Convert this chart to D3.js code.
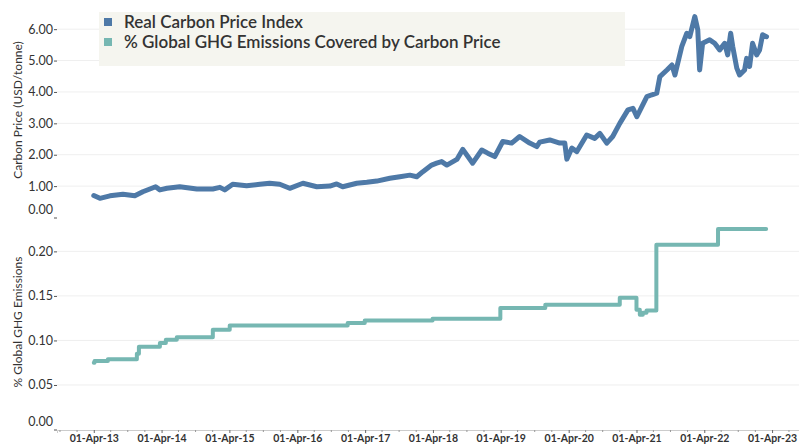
<!DOCTYPE html>
<html lang="en">
<head>
<meta charset="UTF-8">
<title>Carbon Price</title>
<script src="https://cdn.jsdelivr.net/npm/d3@7"></script>
<style>
  body { margin: 0; background: #fff; }
  text { font-family: Lato, "Open Sans", sans-serif; fill: #333; }
  .grid line { stroke: #efefef; }
</style>
</head>
<body>
<script>
// carbon price index (USD/tonne)
var priceDates = ["2013-04-01","2013-05-04","2013-06-27","2013-09-05","2013-11-08","2013-12-21","2014-02-28","2014-03-23","2014-04-30","2014-07-08","2014-10-08","2015-01-02","2015-02-09","2015-03-07","2015-04-19","2015-07-03","2015-09-12","2015-11-04","2015-12-28","2016-02-20","2016-05-01","2016-07-15","2016-09-23","2016-10-30","2016-12-01","2017-02-15","2017-04-10","2017-06-03","2017-08-12","2017-10-05","2017-11-28","2018-01-04","2018-02-06","2018-03-25","2018-04-21","2018-05-18","2018-06-15","2018-08-08","2018-09-09","2018-11-01","2018-12-20","2019-01-21","2019-02-28","2019-04-12","2019-05-30","2019-07-12","2019-09-04","2019-10-12","2019-10-28","2019-12-21","2020-02-13","2020-03-11","2020-03-22","2020-04-18","2020-05-15","2020-07-07","2020-08-19","2020-09-16","2020-10-23","2020-11-24","2021-01-01","2021-02-14","2021-03-13","2021-04-03","2021-04-30","2021-05-27","2021-06-23","2021-07-19","2021-08-05","2021-09-12","2021-10-09","2021-10-25","2021-12-01","2021-12-28","2022-01-13","2022-02-09","2022-02-25","2022-03-07","2022-03-23","2022-04-30","2022-05-27","2022-06-23","2022-07-20","2022-08-05","2022-08-21","2022-09-01","2022-09-23","2022-10-08","2022-11-04","2022-11-15","2022-12-01","2022-12-17","2023-01-08","2023-01-24","2023-02-09","2023-03-02"];
var priceValues = [0.70,0.61,0.69,0.74,0.69,0.82,0.98,0.88,0.93,0.98,0.91,0.91,0.96,0.88,1.06,1.01,1.06,1.09,1.06,0.93,1.09,0.98,1.00,1.07,0.98,1.09,1.12,1.16,1.25,1.30,1.35,1.30,1.46,1.67,1.73,1.78,1.67,1.85,2.17,1.73,2.15,2.05,1.94,2.42,2.37,2.58,2.37,2.26,2.40,2.47,2.37,2.37,1.86,2.21,2.10,2.63,2.52,2.68,2.37,2.58,3.00,3.43,3.48,3.21,3.53,3.85,3.91,3.96,4.49,4.70,4.86,4.54,5.45,5.87,5.76,6.40,5.98,4.70,5.55,5.66,5.55,5.34,5.55,5.18,5.87,5.45,4.76,4.54,4.70,5.07,4.81,5.55,5.18,5.34,5.82,5.76];

// share of global GHG emissions covered (step series)
var ghgDates = ["2013-04-01","2013-04-05","2013-06-16","2013-11-19","2013-11-30","2014-03-23","2014-04-24","2014-06-22","2015-01-02","2015-04-03","2016-12-28","2017-03-30","2018-03-30","2019-03-30","2019-11-27","2021-01-01","2021-04-01","2021-04-19","2021-05-05","2021-05-25","2021-07-17","2022-06-14","2023-02-28"];
var ghgValues = [0.075,0.077,0.079,0.085,0.093,0.097,0.1007,0.1037,0.112,0.1168,0.1195,0.1224,0.1243,0.1363,0.140,0.148,0.1344,0.1288,0.131,0.1337,0.2075,0.2252,0.2252];

var legendLabels = ["Real Carbon Price Index", "% Global GHG Emissions Covered by Carbon Price"];
var priceTicks = [0, 1, 2, 3, 4, 5, 6];
var ghgTicks = [0, 0.05, 0.10, 0.15, 0.20];
var tickYears = [2013, 2014, 2015, 2016, 2017, 2018, 2019, 2020, 2021, 2022, 2023];

var blue = "#4e79a7", teal = "#76b7b2";
var parse = d3.timeParse("%Y-%m-%d");

var price = priceDates.map((d, i) => ({date: parse(d), v: priceValues[i]}));
var ghg = ghgDates.map((d, i) => ({date: parse(d), v: ghgValues[i]}));

var W = 799, H = 445, left = 57;

var svg = d3.select("body").append("svg")
    .attr("width", W).attr("height", H);

var x = d3.scaleTime()
    .domain([parse("2012-09-15"), parse("2023-08-24")])
    .range([left, W]);

var yTop = d3.scaleLinear().domain([0, 6.77]).range([217.5, 5]);
var yBot = d3.scaleLinear().domain([0, 0.233]).range([429.5, 222]);

// gridlines
svg.append("g").attr("class", "grid")
    .selectAll("line").data(priceTicks.slice(1)).enter().append("line")
    .attr("x1", left).attr("x2", W)
    .attr("y1", d => yTop(d)).attr("y2", d => yTop(d));
svg.append("g").attr("class", "grid")
    .selectAll("line").data(ghgTicks.slice(1)).enter().append("line")
    .attr("x1", left).attr("x2", W)
    .attr("y1", d => yBot(d)).attr("y2", d => yBot(d));

// y axes
function yAxis(scale, ticks) {
    var g = svg.append("g").attr("transform", "translate(" + left + ",0)")
        .call(d3.axisLeft(scale).tickValues(ticks).tickFormat(d3.format(".2f")).tickSize(3).tickPadding(1));
    g.select(".domain").remove();
    g.selectAll(".tick line").attr("stroke", "#555");
    g.selectAll(".tick text").style("font-size", "12.5px").attr("fill", "#333")
        .style("font-family", "Lato, sans-serif");
    // the zero label sits above its tick
    g.selectAll(".tick").filter(d => d === 0).select("text").attr("dy", "-0.3em");
    return g;
}
yAxis(yTop, priceTicks);
yAxis(yBot, ghgTicks);

// x axis
var xg = svg.append("g").attr("transform", "translate(0,430)")
    .call(d3.axisBottom(x)
        .tickValues(tickYears.map(y => new Date(y, 3, 1)))
        .tickFormat(d3.timeFormat("%d-%b-%y"))
        .tickSize(3).tickPadding(2));
xg.select(".domain").attr("stroke", "#ccc");
xg.selectAll(".tick line").attr("stroke", "#666");
xg.selectAll(".tick text").style("font-size", "10.5px").style("font-weight", "bold").attr("fill", "#333");

var quarters = d3.timeMonth.every(3).range(x.domain()[0], x.domain()[1])
    .filter(d => d.getMonth() !== 3);
xg.selectAll(".minor").data(quarters).enter().append("line")
    .attr("x1", d => x(d)).attr("x2", d => x(d))
    .attr("y1", 0).attr("y2", 2).attr("stroke", "#999");

// lines
svg.append("path").datum(ghg)
    .attr("fill", "none").attr("stroke", teal).attr("stroke-width", 4)
    .attr("stroke-linejoin", "round").attr("stroke-linecap", "round")
    .attr("d", d3.line().curve(d3.curveStepAfter).x(d => x(d.date)).y(d => yBot(d.v)));

svg.append("path").datum(price)
    .attr("fill", "none").attr("stroke", blue).attr("stroke-width", 5)
    .attr("stroke-linejoin", "round").attr("stroke-linecap", "round")
    .attr("d", d3.line().x(d => x(d.date)).y(d => yTop(d.v)));

// axis titles
svg.append("text").attr("transform", "translate(22,110) rotate(-90)")
    .attr("text-anchor", "middle").style("font-size", "12px").text("Carbon Price (USD/tonne)");
svg.append("text").attr("transform", "translate(22,322) rotate(-90)")
    .attr("text-anchor", "middle").style("font-size", "12px").text("% Global GHG Emissions");

// legend
var lg = svg.append("g");
lg.append("rect").attr("x", 99).attr("y", 12).attr("width", 526).attr("height", 54)
    .attr("fill", "#f5f5ef");
lg.selectAll(".item").data(legendLabels).enter().append("g")
    .attr("transform", (d, i) => "translate(104," + (22 + i * 20) + ")")
    .each(function(d, i) {
        var g = d3.select(this);
        g.append("rect").attr("x", 0).attr("y", -4).attr("width", 8).attr("height", 8)
            .attr("fill", i === 0 ? blue : teal);
        g.append("text").attr("x", 20).attr("y", 0).attr("dy", "0.35em")
            .style("font-size", "17px").style("font-weight", "600").attr("fill", "#333").text(d);
    });
</script>
</body>
</html>
